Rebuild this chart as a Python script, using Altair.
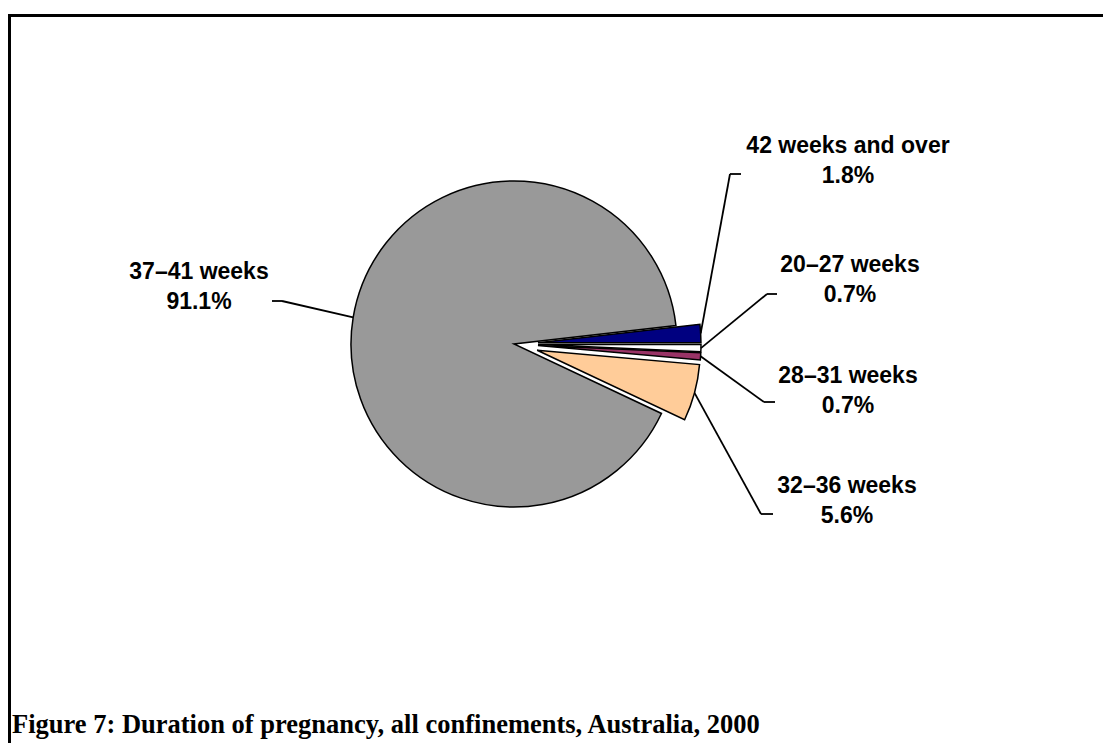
import math
import altair as alt
import pandas as pd

# ---- data ----
labels = ["42 weeks and over", "20–27 weeks", "28–31 weeks", "32–36 weeks", "37–41 weeks"]
percents = [1.8, 0.7, 0.7, 5.6, 91.1]
order = [1, 2, 3, 4, 5]
title_text = "Figure 7: Duration of pregnancy, all confinements, Australia, 2000"

# ---- styles / layout ----
colors = ["#000080", "#FFFFFF", "#993366", "#FFCC99", "#999999"]
explode_px = [24, 24, 24, 24, 0]
label_x = [840, 842, 840, 839, 191]
label_y = [145, 264, 375, 485, 271]
elbow_x = [722, 759, 756, 753, 274]
elbow_y = [166, 286, 394, 506, 293]
end_x = [733, 769, 767, 765, 264]

W, H = 1095, 735
CX, CY, R = 506, 336, 163
LINE_H = 30
START = math.pi / 2 - 2 * math.pi * percents[0] / sum(percents)

df = pd.DataFrame({
    "label": labels, "value": percents, "order": order,
    "ex": explode_px, "tx": label_x, "ty": label_y,
    "ex_x": elbow_x, "ex_y": elbow_y, "en_x": end_x, "en_y": elbow_y,
})

base = alt.Chart(df).transform_joinaggregate(
    total="sum(value)"
).transform_window(
    cum="sum(value)", sort=[alt.SortField("order")], frame=[None, 0]
).transform_calculate(
    a0=f"{START} + 2*PI*(datum.cum - datum.value)/datum.total",
    a1=f"{START} + 2*PI*datum.cum/datum.total",
).transform_calculate(
    am="(datum.a0 + datum.a1)/2",
).transform_calculate(
    cx=f"{CX} + datum.ex*sin(datum.am)",
    cy=f"{CY} - datum.ex*cos(datum.am)",
).transform_calculate(
    lx=f"datum.cx + {R}*sin(datum.am)",
    ly=f"datum.cy - {R}*cos(datum.am)",
    pct="format(datum.value, '.1f') + '%'",
    ty2=f"datum.ty + {LINE_H}",
)

arcs = base.mark_arc(radius=R, stroke="black", strokeWidth=1.5).encode(
    x=alt.X("cx:Q", scale=None, axis=None),
    y=alt.Y("cy:Q", scale=None, axis=None),
    theta=alt.Theta("a0:Q", scale=None),
    theta2="a1:Q",
    color=alt.Color("label:N", scale=alt.Scale(domain=labels, range=colors), legend=None),
)

lead1 = base.mark_rule(color="black", strokeWidth=1.8).encode(
    x=alt.X("lx:Q", scale=None, axis=None),
    y=alt.Y("ly:Q", scale=None, axis=None),
    x2="ex_x:Q", y2="ex_y:Q",
)
lead2 = base.mark_rule(color="black", strokeWidth=1.8).encode(
    x=alt.X("ex_x:Q", scale=None, axis=None),
    y=alt.Y("ex_y:Q", scale=None, axis=None),
    x2="en_x:Q", y2="en_y:Q",
)

txt_style = dict(font="Liberation Sans", fontWeight="bold", fontSize=23,
                 align="center", baseline="alphabetic", color="black")
txt1 = base.mark_text(**txt_style).encode(
    x=alt.X("tx:Q", scale=None, axis=None),
    y=alt.Y("ty:Q", scale=None, axis=None),
    text="label:N",
)
txt2 = base.mark_text(**txt_style).encode(
    x=alt.X("tx:Q", scale=None, axis=None),
    y=alt.Y("ty2:Q", scale=None, axis=None),
    text="pct:N",
)

tdf = pd.DataFrame({"t": [title_text]})
title = alt.Chart(tdf).mark_text(
    font="Liberation Serif", fontWeight="bold", fontSize=26.5,
    align="left", baseline="alphabetic", color="black"
).encode(x=alt.value(4), y=alt.value(725), text="t:N")

border_top = alt.Chart(tdf).mark_rule(color="black", strokeWidth=3).encode(
    x=alt.value(0), x2=alt.value(W), y=alt.value(7.5)
)
border_left = alt.Chart(tdf).mark_rule(color="black", strokeWidth=3).encode(
    x=alt.value(1.5), y=alt.value(6), y2=alt.value(H)
)

chart = alt.layer(arcs, lead1, lead2, txt1, txt2, title, border_top, border_left).properties(
    width=W, height=H,
    autosize=alt.AutoSizeParams(type="none"),
    padding=0,
).configure_view(stroke=None)

chart.save("out.html", embed_options={"renderer": "svg", "actions": False})
